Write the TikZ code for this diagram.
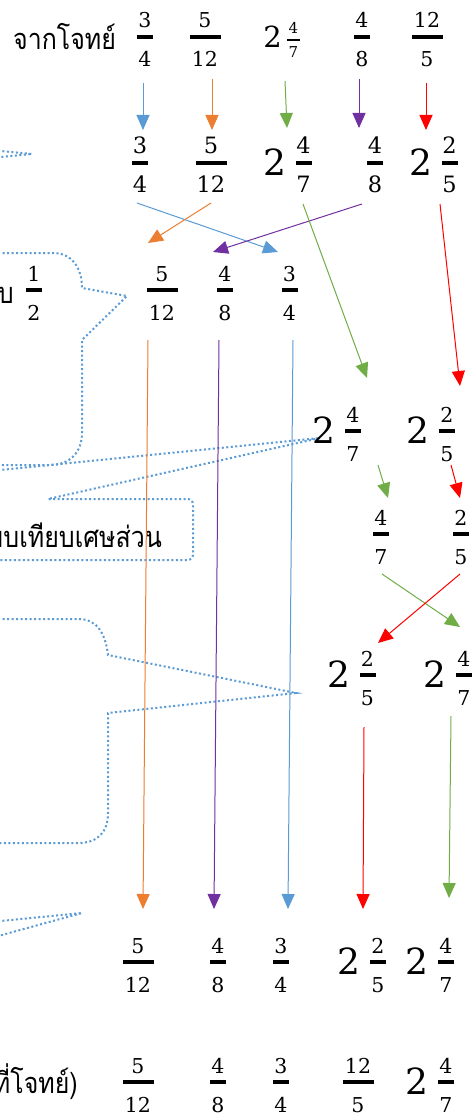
\documentclass[tikz,border=0pt]{standalone}
\usepackage{fontspec}
\newfontfamily\thaif[Script=Thai,FakeStretch=0.86]{Loma}
\newfontfamily\numf{DejaVu Serif}
\usetikzlibrary{arrows.meta}
\definecolor{cblue}{HTML}{5B9BD5}
\definecolor{corange}{HTML}{ED7D31}
\definecolor{cgreen}{HTML}{70AD47}
\definecolor{cpurple}{HTML}{7030A0}
\definecolor{cred}{HTML}{FF0000}
\begin{document}
\begin{tikzpicture}[x=1pt,y=-1pt,
  thai/.style={font=\thaif\fontsize{29}{31}\selectfont, inner sep=0pt},
  dig/.style={font=\numf\fontsize{20.5}{22}\selectfont, inner sep=0pt},
  sdig/.style={font=\numf\fontsize{15}{16}\selectfont, inner sep=0pt},
  big/.style={font=\numf\fontsize{36}{38}\selectfont, inner sep=0pt},
  mid/.style={font=\numf\fontsize{29}{30}\selectfont, inner sep=0pt},
  fbar/.style={line width=3.2pt},
  arr/.style={line width=1pt, -{Triangle[length=15pt,width=13pt]}},
  callout/.style={draw=cblue, line width=2pt, dash pattern=on 2pt off 2.5pt},
  pics/fr/.style n args={3}{code={
     \node[dig,anchor=base] (-n) at (0,-9) {#1};
     \node[dig,anchor=base] (-d) at (0,30) {#2};
     \draw[fbar] (-#3/2,0) -- (#3/2,0);
  }},
  pics/mix/.style 2 args={code={
     \node[dig,anchor=base] (-n) at (0,-9) {#1};
     \node[dig,anchor=base] (-d) at (0,30) {#2};
     \draw[fbar] (-8,0) -- (8,0);
     \node[big,anchor=east] (-w) at (-17,-1) {2};
  }},
]
\useasboundingbox (0,0) rectangle (473,1118);
\fill[white] (0,0) rectangle (473,1118);
\clip (0,0) rectangle (473,1118);

% ---------- callouts (dotted) ----------
\draw[callout] (-20,149) -- (32,154) -- (-20,159);
\draw[callout] (-20,253) -- (53,253) .. controls (72,253) and (82,268) .. (82,288)
   -- (127,296) -- (82,340) -- (82,433) .. controls (82,452) and (70,465) .. (50,465) -- (-20,465);
\draw[callout] (-20,472) -- (320,438) -- (48,499) -- (187,499)
   .. controls (191,499) and (193,501) .. (193,505) -- (193,554)
   .. controls (193,558) and (191,560) .. (187,560) -- (-20,560);
\draw[callout] (-20,619) -- (78,619) .. controls (95,619) and (105,630) .. (108,655)
   -- (296,693) -- (108,713) -- (108,813) .. controls (108,832) and (98,843) .. (78,843) -- (-20,843);
\draw[callout] (-20,923) -- (82,913) -- (-20,941);

% ---------- texts ----------
\node[thai,anchor=base west] (t1) at (13,50) {จากโจทย์};
\node[thai,anchor=base east] (t2) at (14,303) {กับ};
\pic (h) at (34,290) {fr={1}{2}{16}};
\node[thai,anchor=base east] (t3) at (162,547) {เปรียบเทียบเศษส่วน};
\node[thai,anchor=base east] (t4) at (78,1093) {ที่โจทย์)};

% ---------- row 1 ----------
\pic (a1) at (145,37) {fr={3}{4}{16}};
\pic (a2) at (205,37) {fr={5}{12}{31}};
\node[mid,anchor=east] (a3w) at (282,37) {2};
\node[sdig,anchor=base] (a3n) at (293.5,34) {4};
\node[sdig,anchor=base] (a3d) at (293.5,58) {7};
\draw[line width=2pt] (287,40) -- (300,40);
\pic (a4) at (362,37) {fr={4}{8}{16}};
\pic (a5) at (427,37) {fr={12}{5}{31}};

% ---------- row 2 ----------
\begin{scope}[dig/.style={font=\numf\fontsize{22.5}{24}\selectfont, inner sep=0pt}]
\pic (b1) at (140,163) {fr={3}{4}{16}};
\pic (b2) at (211,163) {fr={5}{12}{31}};
\pic (b3) at (303.5,163) {mix={4}{7}};
\pic (b4) at (375,163) {fr={4}{8}{16}};
\pic (b5) at (449.5,163) {mix={2}{5}};
\end{scope}

% ---------- row 3 ----------
\pic (c1) at (162,290) {fr={5}{12}{31}};
\pic (c2) at (225,290) {fr={4}{8}{16}};
\pic (c3) at (289.5,290) {fr={3}{4}{16}};

% ---------- row 4 ----------
\pic (d1) at (353,431) {mix={4}{7}};
\pic (d2) at (447,431) {mix={2}{5}};

% ---------- row 5 ----------
\pic (e1) at (381,534) {fr={4}{7}{16}};
\pic (e2) at (461,534) {fr={2}{5}{16}};

% ---------- row 6 ----------
\pic (f1) at (367.5,675) {mix={2}{5}};
\pic (f2) at (464,675) {mix={4}{7}};

% ---------- row 7 ----------
\pic (g1) at (138,962) {fr={5}{12}{31}};
\pic (g2) at (218,962) {fr={4}{8}{16}};
\pic (g3) at (281,962) {fr={3}{4}{16}};
\pic (g4) at (378,962) {mix={2}{5}};
\pic (g5) at (446,962) {mix={4}{7}};

% ---------- row 8 ----------
\pic (k1) at (138,1082) {fr={5}{12}{31}};
\pic (k2) at (218,1082) {fr={4}{8}{16}};
\pic (k3) at (281,1082) {fr={3}{4}{16}};
\pic (k4) at (358,1082) {fr={12}{5}{31}};
\pic (k5) at (446,1082) {mix={4}{7}};

% ---------- arrow end points ----------
\coordinate (p1s) at (143,83);  \coordinate (p1e) at (143,130);
\coordinate (p2s) at (212,79);  \coordinate (p2e) at (212,130);
\coordinate (p3s) at (285,81);  \coordinate (p3e) at (287,128);
\coordinate (p4s) at (359,79);  \coordinate (p4e) at (359,128);
\coordinate (p5s) at (426,83);  \coordinate (p5e) at (426,130);

\coordinate (q1s) at (137,203); \coordinate (q1e) at (278,252);
\coordinate (q2s) at (211,203); \coordinate (q2e) at (148,243);
\coordinate (q3s) at (362,204); \coordinate (q3e) at (213,252);
\coordinate (q4s) at (303,204); \coordinate (q4e) at (367,378);
\coordinate (q5s) at (440,204); \coordinate (q5e) at (460,386);

\coordinate (r1s) at (148,340); \coordinate (r1e) at (143,909);
\coordinate (r2s) at (219,340); \coordinate (r2e) at (214,909);
\coordinate (r3s) at (293,340); \coordinate (r3e) at (288,909);

\coordinate (s1s) at (378,465); \coordinate (s1e) at (388,498);
\coordinate (s2s) at (451,465); \coordinate (s2e) at (460,498);

\coordinate (u1s) at (382,574); \coordinate (u1e) at (460,627);
\coordinate (u2s) at (460,574); \coordinate (u2e) at (378,643);

\coordinate (v1s) at (364,727); \coordinate (v1e) at (363,909);
\coordinate (v2s) at (451,716); \coordinate (v2e) at (449,898);

% ---------- arrows ----------
\draw[arr,cblue]   (p1s) -- (p1e);
\draw[arr,corange] (p2s) -- (p2e);
\draw[arr,cgreen]  (p3s) -- (p3e);
\draw[arr,cpurple] (p4s) -- (p4e);
\draw[arr,cred]    (p5s) -- (p5e);

\draw[arr,cblue]   (q1s) -- (q1e);
\draw[arr,corange] (q2s) -- (q2e);
\draw[arr,cpurple] (q3s) -- (q3e);
\draw[arr,cgreen]  (q4s) -- (q4e);
\draw[arr,cred]    (q5s) -- (q5e);

\draw[arr,corange] (r1s) -- (r1e);
\draw[arr,cpurple] (r2s) -- (r2e);
\draw[arr,cblue]   (r3s) -- (r3e);

\draw[arr,cgreen]  (s1s) -- (s1e);
\draw[arr,cred]    (s2s) -- (s2e);

\draw[arr,cgreen]  (u1s) -- (u1e);
\draw[arr,cred]    (u2s) -- (u2e);

\draw[arr,cred]    (v1s) -- (v1e);
\draw[arr,cgreen]  (v2s) -- (v2e);
\end{tikzpicture}
\end{document}
